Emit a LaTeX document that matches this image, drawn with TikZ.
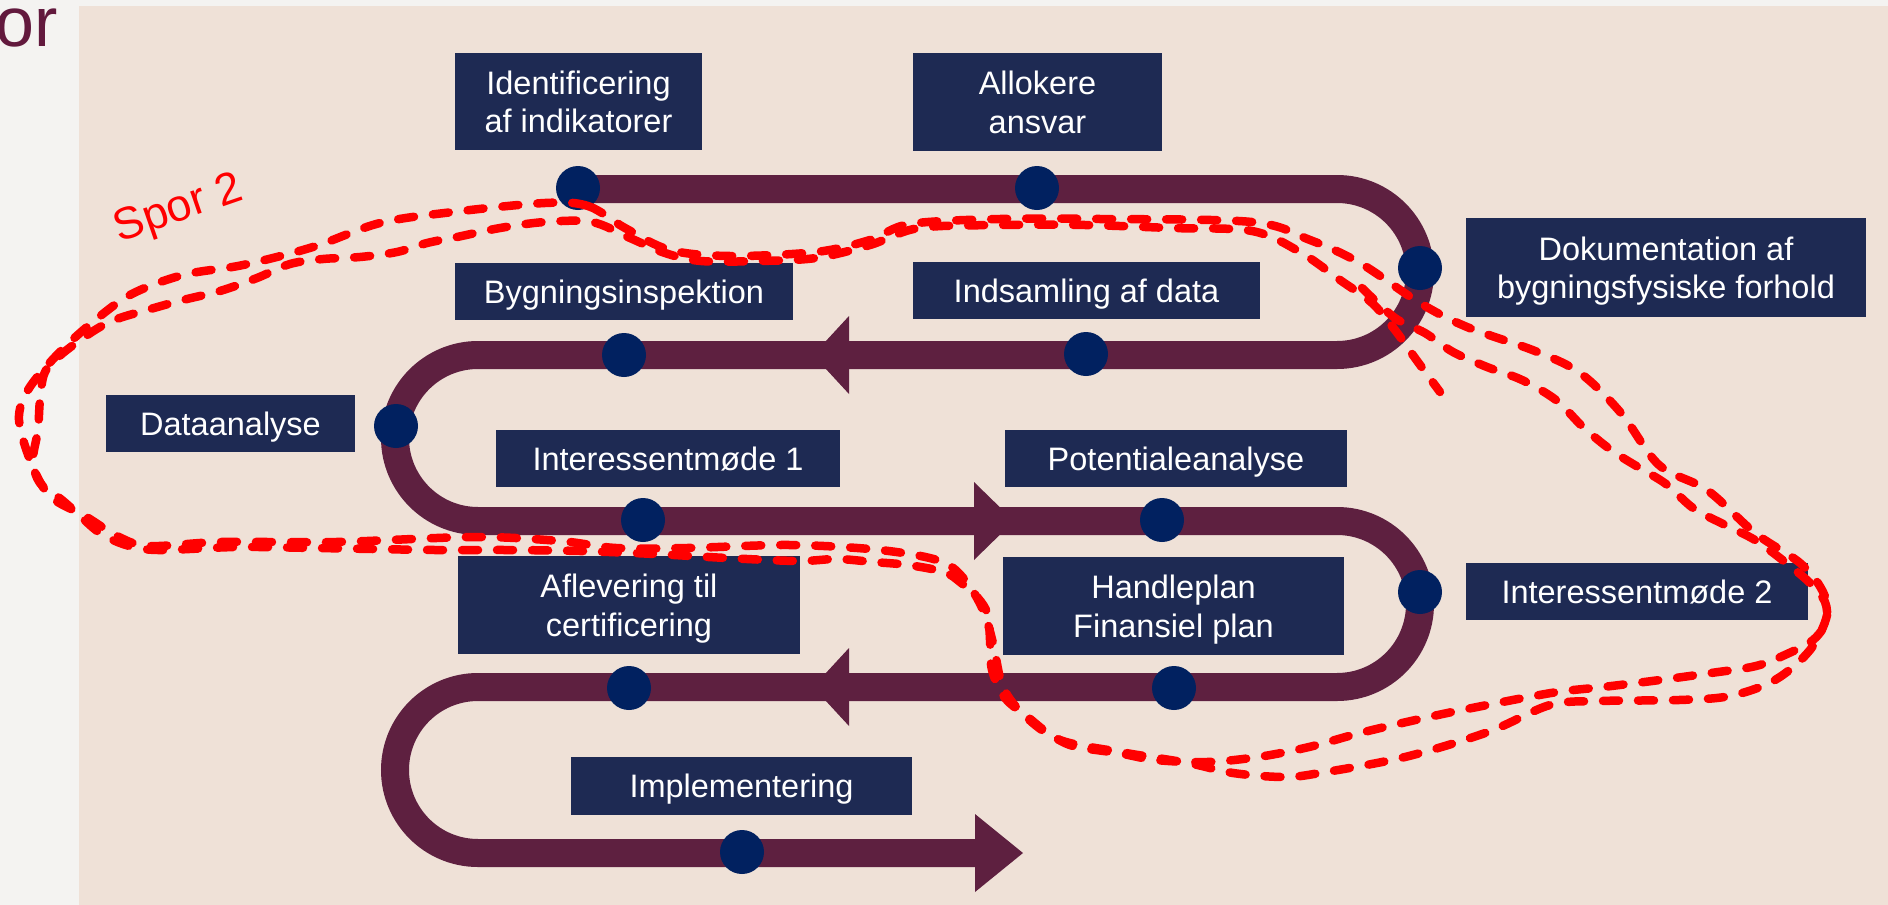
\documentclass[tikz,border=0pt]{standalone}
\usepackage{fontspec}
\setmainfont{Liberation Sans}
\definecolor{bgc}{HTML}{F4F3F1}
\definecolor{panelc}{HTML}{EFE1D7}
\definecolor{trackc}{HTML}{5E2040}
\definecolor{dotc}{HTML}{012160}
\definecolor{boxc}{HTML}{1E2A53}
\definecolor{titlec}{HTML}{62193D}
\begin{document}
\begin{tikzpicture}[x=1pt,y=-1pt,
  box/.style={fill=boxc, text=white, inner sep=0pt, align=center, text depth=0pt,
              font=\fontsize{32.5}{38.5}\selectfont},
  dot/.style={circle, fill=dotc, minimum size=44pt, inner sep=0pt},
  track/.style={draw=trackc, line width=28pt},
  head/.style={fill=trackc},
  spor/.style={draw=red, line width=8.5pt, dash pattern=on 16pt off 19pt,
               line cap=round, line join=round}]

% page and slide background
\fill[bgc] (0,0) rectangle (1888,905);
\useasboundingbox (0,0) rectangle (1888,905);
\node[anchor=base west, inner sep=0pt, text=titlec,
      font=\fontsize{70}{74}\selectfont] (title) at (-5,46) {or};
\fill[panelc] (79,6) rectangle (1888,905);

% the serpentine process track
\coordinate (start) at (578,189);
\coordinate (finish) at (975,853);
\draw[track] (start) -- (1337,189) arc[start angle=-90, end angle=90, radius=83]
  -- (478,355) arc[start angle=-90, end angle=-270, radius=83]
  -- (1337,521) arc[start angle=-90, end angle=90, radius=83]
  -- (478,687) arc[start angle=-90, end angle=-270, radius=83]
  -- (finish);
\fill[head] (849,316) -- (813,355) -- (849,394) -- cycle;
\fill[head] (974,482) -- (1014,521) -- (974,560) -- cycle;
\fill[head] (849,648) -- (813,687) -- (849,726) -- cycle;
\fill[head] (finish) ++(0,-39) -- (1023,853) -- (975,892) -- cycle;

% milestones on the track
\node[dot] (d1)  at (578,188) {};
\node[dot] (d2)  at (1037,188) {};
\node[dot] (d3)  at (1420,268) {};
\node[dot] (d4)  at (624,355) {};
\node[dot] (d5)  at (1086,354) {};
\node[dot] (d6)  at (396,426) {};
\node[dot] (d7)  at (643,520) {};
\node[dot] (d8)  at (1162,520) {};
\node[dot] (d9)  at (1420,592) {};
\node[dot] (d10) at (629,688) {};
\node[dot] (d11) at (1174,688) {};
\node[dot] (d12) at (742,852) {};

% step labels
\node[box, minimum width=247pt, minimum height=97pt] (b1)  at (578.5,101.5) {Identificering\\af indikatorer};
\node[box, minimum width=249pt, minimum height=98pt] (b2)  at (1037.5,102) {Allokere\\ansvar};
\node[box, minimum width=400pt, minimum height=99pt] (b3)  at (1666,267.5) {Dokumentation af\\bygningsfysiske forhold};
\node[box, minimum width=338pt, minimum height=57pt] (b4)  at (624,291.5) {Bygningsinspektion};
\node[box, minimum width=347pt, minimum height=57pt] (b5)  at (1086.5,290.5) {Indsamling af data};
\node[box, minimum width=249pt, minimum height=57pt] (b6)  at (230.5,423.5) {Dataanalyse};
\node[box, minimum width=344pt, minimum height=57pt] (b7)  at (668,458.5) {Interessentmøde 1};
\node[box, minimum width=342pt, minimum height=57pt] (b8)  at (1176,458.5) {Potentialeanalyse};
\node[box, minimum width=342pt, minimum height=57pt] (b9)  at (1637,591.5) {Interessentmøde 2};
\node[box, minimum width=342pt, minimum height=98pt] (b10) at (629,605) {Aflevering til\\certificering};
\node[box, minimum width=341pt, minimum height=98pt] (b11) at (1173.5,606) {Handleplan\\Finansiel plan};
\node[box, minimum width=341pt, minimum height=58pt] (b12) at (741.5,786) {Implementering};

% hand-drawn outline of track 2 (two passes)
\draw[spor] plot[smooth cycle, tension=0.55] coordinates {
  (545,203) (588,206) (625,228) (670,250) (730,256) (816,252) (870,240) (910,224)
  (1000,219) (1100,219) (1252,222) (1310,240) (1360,263) (1420,303) (1467,327)
  (1535,351) (1580,373) (1621,413) (1659,465) (1707,490) (1755,533) (1800,563)
  (1822,590) (1827,615) (1810,650) (1775,680) (1730,696) (1679,700) (1600,701)
  (1550,705) (1488,732) (1405,757) (1320,773) (1284,777) (1233,773) (1188,763)
  (1120,752) (1060,740) (1025,716) (1003,687) (993,643) (983,610) (965,580)
  (940,561) (880,550) (790,545) (687,548) (616,548) (560,541) (474,537) (336,542)
  (221,542) (150,546) (119,537) (85,516) (51,497) (32,465) (19,420) (28,390)
  (55,357) (87,327) (130,295) (183,275) (243,265) (313,247) (380,223) (453,212)};
\draw[spor] plot[smooth, tension=0.55] coordinates {
  (1362,288) (1395,318) (1425,333) (1453,352) (1487,367) (1522,380) (1556,400)
  (1583,427) (1611,450) (1638,467) (1666,484) (1693,508) (1721,523) (1755,540)
  (1785,562) (1810,583) (1825,602) (1826,622) (1813,640) (1787,654) (1756,666)
  (1711,673) (1660,680) (1603,687) (1551,693) (1462,710) (1411,721) (1360,733)
  (1309,747) (1258,757) (1207,762) (1156,760) (1118,753) (1073,746) (1048,733)
  (1029,718) (1005,698) (992,670) (990,640) (988,615) (978,598) (960,582)
  (944,572) (908,565) (873,562) (837,559) (798,561) (727,558) (655,554) (580,551)
  (505,550) (435,550) (316,548) (237,547) (158,550) (126,545) (100,533) (79,515)
  (62,500) (40,483) (33,460) (38,430) (40,400) (45,372) (63,353) (95,330)
  (117,319) (147,310) (183,300) (220,291) (257,278) (290,264) (323,259) (360,257)
  (397,252) (427,243) (457,237) (500,228) (545,222) (592,222) (630,238) (665,253)
  (701,261) (758,261) (816,258) (870,245) (919,228) (1000,225) (1085,225)
  (1171,228) (1252,231) (1300,252) (1340,280) (1372,303) (1395,330) (1415,358)
  (1440,392)};
\node[text=red, rotate=19, inner sep=0pt,
      font=\fontsize{45}{50}\selectfont] (spor2) at (179,210) {Spor 2};
\end{tikzpicture}
\end{document}
